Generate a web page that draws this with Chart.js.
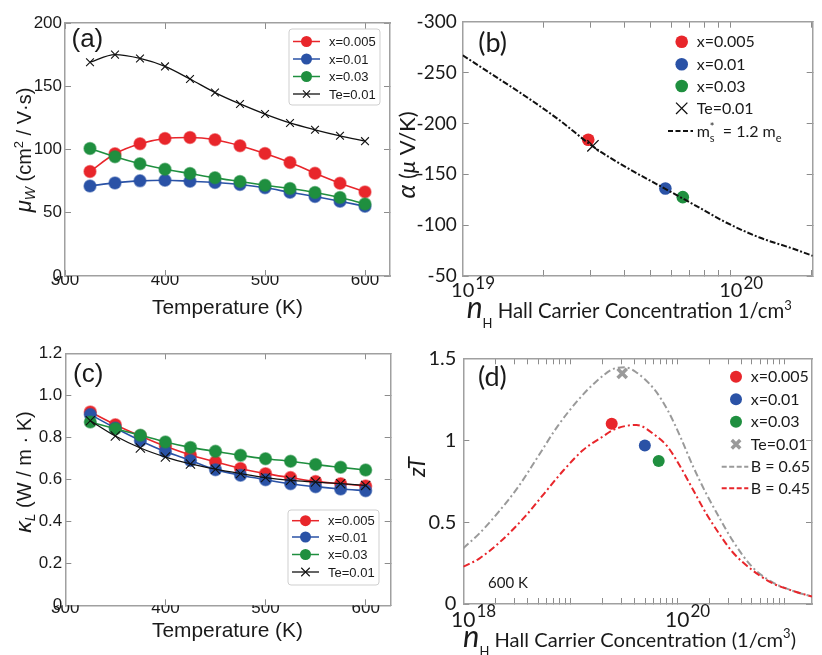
<!DOCTYPE html>
<html>
<head>
<meta charset="utf-8">
<script src="https://cdn.jsdelivr.net/npm/chart.js@4.4.0/dist/chart.umd.min.js"></script>
<style>
body{margin:0;background:#fff;width:822px;height:655px;position:relative;overflow:hidden}
canvas{position:absolute}
</style>
</head>
<body>
<canvas id="pa" width="420" height="330" style="left:0;top:0"></canvas>
<canvas id="pb" width="432" height="330" style="left:390px;top:0"></canvas>
<canvas id="pc" width="420" height="325" style="left:0;top:330px"></canvas>
<canvas id="pd" width="432" height="325" style="left:390px;top:330px"></canvas>
<script>
// ---- data ----
const temps = [325,350,375,400,425,450,475,500,525,550,575,600];
const muX005 = [82.6,96.6,104.5,108.7,109.5,107.7,103,96.8,89.7,81.3,73.4,66.5];
const muX01  = [71.2,73.6,75.2,75.7,74.9,73.9,72.3,69.7,66.2,62.8,59.1,55.1];
const muX03  = [100.8,94.2,88.7,84.4,81,77.6,74.7,71.8,69.1,66,62,57];
const muTe   = [169,175,172,165.7,155.7,145,136,128,121,115.6,110.8,106.6];

const kX005 = [0.921,0.860,0.806,0.757,0.716,0.683,0.651,0.627,0.608,0.590,0.579,0.568];
const kX01  = [0.908,0.844,0.784,0.732,0.690,0.646,0.619,0.598,0.579,0.565,0.554,0.546];
const kX03  = [0.873,0.841,0.810,0.778,0.752,0.733,0.714,0.698,0.686,0.670,0.657,0.644];
const kTe   = [0.879,0.806,0.749,0.706,0.673,0.648,0.627,0.608,0.595,0.587,0.579,0.571];

const samples = ['x=0.005','x=0.01','x=0.03','Te=0.01'];
const nHallB   = [2.94e19,5.7e19,6.62e19,3.06e19];
const seebeckB = [-184,-136,-127.5,-178];
const nPisarenko = [1e19,1.3e19,1.73e19,2.3e19,3.06e19,4.07e19,5.42e19,7.21e19,9.6e19,1.28e20,1.7e20,2.02e20];
const seebeckPisarenko = [-267,-247.4,-226,-203,-177.3,-156.9,-138.8,-120.8,-102.6,-87.8,-77,-69.8];

const nHallD = [2.44e19,4.98e19,6.71e19,3.06e19];
const zTD    = [1.10,0.967,0.873,1.408];
const nB065  = [1e18,1.42e18,2.15e18,3.27e18,4.98e18,7.57e18,1.15e19,1.74e19,2.63e19,3.24e19,4.07e19,6.17e19,8.13e19,1.07e20,1.41e20,1.86e20,2.45e20,3.27e20,5e20,7.6e20,1.15e21,1.82e21];
const zTB065 = [0.340,0.432,0.564,0.716,0.899,1.083,1.235,1.357,1.439,1.445,1.418,1.307,1.184,1.021,0.838,0.676,0.533,0.391,0.228,0.136,0.085,0.045];
const nB045  = [1e18,1.42e18,2.31e18,3.77e18,5.73e18,8.7e18,1.32e19,2e19,2.63e19,4.17e19,6.17e19,8.13e19,1.07e20,1.41e20,1.86e20,2.45e20,3.27e20,5e20,7.6e20,1.15e21,1.82e21];
const zTB045 = [0.228,0.279,0.391,0.533,0.676,0.818,0.940,1.021,1.068,1.093,1.032,0.960,0.838,0.696,0.554,0.432,0.319,0.208,0.130,0.085,0.045];

const tTicks = [300,400,500,600];
const muTicks = [0,50,100,150,200];
const kTicks = [0,0.2,0.4,0.6,0.8,1.0,1.2];
const sTicks = [-300,-250,-200,-150,-100,-50];
const zTicks = [0,0.5,1,1.5];

const RED='#e8262b', BLUE='#2a52a6', GREEN='#1f8f3f', BLACK='#111', GRAY='#9a9a9a';
const SANS='"Liberation Sans", Arial, sans-serif';
const HUM='Lato, "Open Sans", sans-serif';
const sampleColors = [RED,BLUE,GREEN];

// ---- drawing helpers ----
function fontOf(p, s){ return (p.st||'') + ' ' + s + 'px ' + (p.fam||SANS); }
function drawRich(ctx, x, y, parts, align, rot){
  ctx.save();
  ctx.translate(x, y);
  if (rot) ctx.rotate(-Math.PI/2);
  ctx.textBaseline = 'alphabetic';
  ctx.textAlign = 'left';
  const sized = parts.map(p => {
    let size = p.s;
    ctx.font = fontOf(p, size);
    let m = ctx.measureText(p.t).width;
    if (p.fit){ size = p.s * p.fit / m; ctx.font = fontOf(p, size); m = ctx.measureText(p.t).width; }
    return {p, size, w: m};
  });
  const total = sized.reduce((s, q) => s + (q.p.stack ? 0 : q.w), 0);
  let cx = align === 'center' ? -total/2 : align === 'right' ? -total : 0;
  for (const q of sized){
    ctx.font = fontOf(q.p, q.size);
    ctx.fillStyle = q.p.c || '#1a1a1a';
    ctx.fillText(q.p.t, cx, q.p.dy || 0);
    if (!q.p.stack) cx += q.w;
  }
  ctx.restore();
}
function mark(ctx, style, x, y, r, color, lw){
  ctx.save();
  ctx.fillStyle = color; ctx.strokeStyle = color; ctx.lineWidth = lw || 1;
  if (style === 'circle'){ ctx.beginPath(); ctx.arc(x, y, r, 0, Math.PI*2); ctx.fill(); }
  else { const d = r*0.7071; ctx.beginPath(); ctx.moveTo(x-d,y-d); ctx.lineTo(x+d,y+d); ctx.moveTo(x-d,y+d); ctx.lineTo(x+d,y-d); ctx.stroke(); }
  ctx.restore();
}
function drawLegend(ctx, L){
  if (L.box){
    ctx.save();
    ctx.fillStyle = '#fff'; ctx.strokeStyle = '#cfcfcf'; ctx.lineWidth = 1;
    ctx.beginPath(); ctx.roundRect(L.box[0], L.box[1], L.box[2], L.box[3], 3); ctx.fill(); ctx.stroke();
    ctx.restore();
  }
  for (const r of L.rows){
    if (r.line){
      ctx.save();
      ctx.strokeStyle = r.color; ctx.lineWidth = r.lw || 1.5; ctx.setLineDash(r.dash || []);
      ctx.beginPath(); ctx.moveTo(L.lineX[0], r.y); ctx.lineTo(L.lineX[1], r.y); ctx.stroke();
      ctx.restore();
    }
    if (r.style) mark(ctx, r.style, L.markX, r.y, r.r || L.r, r.color, r.mlw);
    const parts = r.parts || [{t: r.label, s: L.size, fam: L.fam}];
    drawRich(ctx, L.textX, r.y + L.size*0.36, parts, 'left', false);
  }
}

// legend, log tick labels and titles, drawn after the datasets
function decoPlugin(id, cfg){
  return {
    id,
    afterDraw(chart){
      const ctx = chart.ctx, xs = chart.scales.x;
      if (cfg.legend) drawLegend(ctx, cfg.legend);
      for (const l of (cfg.logLabels || [])){
        const p = xs.getPixelForValue(l.v);
        ctx.save();
        ctx.font = l.s + 'px ' + HUM; ctx.fillStyle = '#1a1a1a'; ctx.textBaseline = 'alphabetic'; ctx.textAlign = 'left';
        const w = ctx.measureText('10').width;
        ctx.fillText('10', p - w/2, l.y);
        ctx.font = l.ss + 'px ' + HUM;
        ctx.fillText(l.e, p + w/2 + 1, l.y - l.up);
        ctx.restore();
      }
      for (const t of (cfg.texts || [])) drawRich(ctx, t.x, t.y, t.parts, t.align, t.rot);
    }
  };
}

function fixW(w){ return s => { s.width = w; s.paddingTop = 0; s.paddingBottom = 0; }; }
function fixH(h){ return s => { s.height = h; s.paddingLeft = 0; s.paddingRight = 0; }; }
function setTicks(list){ return s => { s.ticks = list.map(v => ({value: v})); }; }
function logTicks(from, to, decades){
  const out = [];
  for (const d of decades) for (let m = 1; m <= 9; m++){ const v = m*d; if (v >= from && v <= to) out.push(v); }
  return out;
}

// the box: library axes on all four sides, each with its border and inward tick marks
const frameGrid = {display: true, drawOnChartArea: false, drawTicks: true, tickLength: -6, tickColor: '#8c8c8c', tickWidth: 1};
const frameBorder = {display: true, color: '#a0a0a0', width: 1.5};
function axis(extra){
  return Object.assign({grid: frameGrid, border: frameBorder}, extra);
}
function mirrorX(type, min, max, ticks){
  return axis({type, position: 'top', min, max, afterFit: fixH(0), afterBuildTicks: setTicks(ticks), ticks: {display: false}});
}
function mirrorY(min, max, ticks, reverse){
  return axis({type: 'linear', position: 'right', min, max, reverse: !!reverse, afterFit: fixW(0), afterBuildTicks: setTicks(ticks), ticks: {display: false}});
}

function tSeries(label, ys, color, style, r, order){
  const circ = style === 'circle';
  return {
    label, order,
    data: temps.map((t,i) => ({x: t, y: ys[i]})),
    borderColor: color, backgroundColor: color,
    pointBackgroundColor: color,
    pointBorderColor: circ ? color + '88' : color,
    pointBorderWidth: circ ? 1.5 : 1.1,
    pointStyle: style, pointRadius: r,
    borderWidth: circ ? 1.6 : 1.3,
    cubicInterpolationMode: 'monotone'
  };
}
function baseOpts(pad){
  return {
    animation: false, responsive: false, devicePixelRatio: 1, events: [],
    layout: {padding: {top: pad.top, right: pad.right, left: 0, bottom: 0}},
    plugins: {legend: {display: false}, tooltip: {enabled: false}}
  };
}
const legTemp = (box, rows, crossR) => ({
  box, lineX: [box[0]+4, box[0]+31], markX: box[0]+17.5, textX: box[0]+40, r: 5.5, size: 13, fam: SANS,
  rows: [
    {y: rows[0], line: true, style: 'circle', color: RED, label: samples[0]},
    {y: rows[1], line: true, style: 'circle', color: BLUE, label: samples[1]},
    {y: rows[2], line: true, style: 'circle', color: GREEN, label: samples[2]},
    {y: rows[3], line: true, lw: 1.3, style: 'crossRot', r: crossR, mlw: 1.1, color: BLACK, label: samples[3]}
  ]
});

// ---- (a) weighted mobility ----
const optA = baseOpts({top: 23, right: 30});
optA.scales = {
  x: axis({type: 'linear', position: 'bottom', min: 300, max: 625, afterFit: fixH(54), afterBuildTicks: setTicks(tTicks),
      ticks: {padding: 0, color: '#1a1a1a', font: {family: SANS, size: 17}}}),
  y: axis({type: 'linear', position: 'left', min: 0, max: 200, afterFit: fixW(65), afterBuildTicks: setTicks(muTicks),
      ticks: {padding: 9, color: '#1a1a1a', font: {family: SANS, size: 17}}}),
  x2: mirrorX('linear', 300, 625, tTicks),
  y2: mirrorY(0, 200, muTicks)
};
new Chart(document.getElementById('pa'), {
  type: 'line',
  data: {datasets: [
    tSeries(samples[0], muX005, RED, 'circle', 6, 4),
    tSeries(samples[1], muX01, BLUE, 'circle', 6, 3),
    tSeries(samples[2], muX03, GREEN, 'circle', 6, 2),
    tSeries(samples[3], muTe, BLACK, 'crossRot', 5.5, 1)
  ]},
  options: optA,
  plugins: [decoPlugin('decoA', {
    legend: legTemp([289, 29, 91, 76], [41.5, 59, 76.5, 94], 5),
    texts: [
      {x: 71.5, y: 47, parts: [{t: '(a)', s: 26}], align: 'left'},
      {x: 227.5, y: 314, parts: [{t: 'Temperature (K)', s: 19, fit: 151}], align: 'center'},
      {x: 31, y: 150, rot: true, align: 'center', parts: [
        {t: 'μ', s: 22, st: 'italic'}, {t: 'W', s: 14, st: 'italic', dy: 4},
        {t: ' (cm', s: 20}, {t: '2', s: 13, dy: -8}, {t: ' / V·s)', s: 20}]}
    ]
  })]
});

// ---- (c) lattice thermal conductivity ----
const optC = baseOpts({top: 23.3, right: 29.3});
optC.scales = {
  x: axis({type: 'linear', position: 'bottom', min: 300, max: 625, afterFit: fixH(49.7), afterBuildTicks: setTicks(tTicks),
      ticks: {padding: -1, color: '#1a1a1a', font: {family: SANS, size: 17}}}),
  y: axis({type: 'linear', position: 'left', min: 0, max: 1.2, afterFit: fixW(65.3), afterBuildTicks: setTicks(kTicks),
      ticks: {padding: 9, color: '#1a1a1a', font: {family: SANS, size: 17},
              callback: v => v === 0 ? '0' : v.toFixed(1)}}),
  x2: mirrorX('linear', 300, 625, tTicks),
  y2: mirrorY(0, 1.2, kTicks)
};
new Chart(document.getElementById('pc'), {
  type: 'line',
  data: {datasets: [
    tSeries(samples[0], kX005, RED, 'circle', 6, 4),
    tSeries(samples[1], kX01, BLUE, 'circle', 6, 3),
    tSeries(samples[2], kX03, GREEN, 'circle', 6, 2),
    tSeries(samples[3], kTe, BLACK, 'crossRot', 6.5, 1)
  ]},
  options: optC,
  plugins: [decoPlugin('decoC', {
    legend: legTemp([288, 180, 91, 75], [190.7, 207, 224.5, 242], 6),
    texts: [
      {x: 73, y: 52, parts: [{t: '(c)', s: 26}], align: 'left'},
      {x: 227.5, y: 307, parts: [{t: 'Temperature (K)', s: 19, fit: 151}], align: 'center'},
      {x: 31, y: 142, rot: true, align: 'center', parts: [
        {t: 'κ', s: 23, st: 'italic'}, {t: 'L', s: 14, st: 'italic', dy: 4},
        {t: ' (W / m · K)', s: 20}]}
    ]
  })]
});

// ---- (b) Pisarenko plot ----
function ptSet(i, xs, ys, r, crossColor, crossW, order){
  const isTe = i === 3;
  return {
    label: samples[i], order, showLine: false,
    data: [{x: xs[i], y: ys[i]}],
    pointStyle: isTe ? 'crossRot' : 'circle',
    pointRadius: isTe ? r + 1 : r,
    pointBackgroundColor: isTe ? crossColor : sampleColors[i],
    pointBorderColor: isTe ? crossColor : sampleColors[i],
    pointBorderWidth: isTe ? crossW : 0
  };
}
const nTicksB = logTicks(1e19, 2.02e20, [1e19, 1e20]);
const optB = baseOpts({top: 21.7, right: 9});
optB.scales = {
  x: axis({type: 'logarithmic', position: 'bottom', min: 1e19, max: 2.02e20, afterFit: fixH(54), afterBuildTicks: setTicks(nTicksB),
      ticks: {display: false}}),
  y: axis({type: 'linear', position: 'left', min: -300, max: -50, reverse: true, afterFit: fixW(72.7), afterBuildTicks: setTicks(sTicks),
      ticks: {padding: 12, color: '#1a1a1a', font: {family: HUM, size: 19}, callback: v => String(v)}}),
  x2: mirrorX('logarithmic', 1e19, 2.02e20, nTicksB),
  y2: mirrorY(-300, -50, sTicks, true)
};
new Chart(document.getElementById('pb'), {
  type: 'scatter',
  data: {datasets: [
    {label: 'ms* = 1.2 me', order: 0, showLine: true, pointRadius: 0, borderColor: BLACK, borderWidth: 2,
     borderDash: [6, 2, 2, 2], cubicInterpolationMode: 'monotone',
     data: nPisarenko.map((n, i) => ({x: n, y: seebeckPisarenko[i]}))},
    ptSet(0, nHallB, seebeckB, 6.3, BLACK, 1.3, 4),
    ptSet(1, nHallB, seebeckB, 6.3, BLACK, 1.3, 3),
    ptSet(2, nHallB, seebeckB, 6.3, BLACK, 1.3, 2),
    ptSet(3, nHallB, seebeckB, 7, BLACK, 1.3, 1)
  ]},
  options: optB,
  plugins: [decoPlugin('decoB', {
    logLabels: [{v: 1e19, e: '19', s: 20, ss: 17, y: 297, up: 8}, {v: 1e20, e: '20', s: 20, ss: 17, y: 297, up: 8}],
    legend: {
      lineX: [278, 303], markX: 291.7, textX: 306.7, r: 6.3, size: 16, fam: HUM,
      rows: [
        {y: 41.7, style: 'circle', color: RED, label: samples[0]},
        {y: 64.3, style: 'circle', color: BLUE, label: samples[1]},
        {y: 86, style: 'circle', color: GREEN, label: samples[2]},
        {y: 108.3, style: 'crossRot', r: 8, mlw: 1.3, color: BLACK, label: samples[3]},
        {y: 131, line: true, lw: 2, dash: [5, 2.5], color: BLACK, parts: [
          {t: 'm', s: 16, fam: HUM}, {t: '*', s: 11, fam: HUM, dy: -6, stack: true},
          {t: 's', s: 11, fam: HUM, dy: 5}, {t: '  = 1.2 m', s: 16, fam: HUM}, {t: 'e', s: 11, fam: HUM, dy: 5}]}
      ]
    },
    texts: [
      {x: 88.3, y: 52, parts: [{t: '(b)', s: 27, fam: HUM}], align: 'left'},
      {x: 76.7, y: 318, align: 'left', parts: [
        {t: 'n', s: 30, st: 'italic', fam: HUM}, {t: 'H', s: 13, fam: HUM, dy: 10},
        {t: ' Hall Carrier Concentration 1/cm', s: 20, fam: HUM, fit: 292}, {t: '3', s: 13, fam: HUM, dy: -8}]},
      {x: 25, y: 155, rot: true, align: 'center', parts: [
        {t: 'α', s: 25, st: 'italic', fam: HUM}, {t: ' (', s: 22, fam: HUM},
        {t: 'μ', s: 22, st: 'italic', fam: HUM}, {t: ' V/K)', s: 22, fam: HUM}]}
    ]
  })]
});

// ---- (d) zT vs carrier concentration ----
const nTicksD = logTicks(1e18, 1.82e21, [1e18, 1e19, 1e20, 1e21]);
const optD = baseOpts({top: 28.3, right: 1});
optD.scales = {
  x: axis({type: 'logarithmic', position: 'bottom', min: 1e18, max: 1.82e21, afterFit: fixH(51), afterBuildTicks: setTicks(nTicksD),
      ticks: {display: false}}),
  y: axis({type: 'linear', position: 'left', min: 0, max: 1.5, afterFit: fixW(73.3), afterBuildTicks: setTicks(zTicks),
      ticks: {padding: 13, color: '#1a1a1a', font: {family: HUM, size: 20}, callback: v => String(v)}}),
  x2: mirrorX('logarithmic', 1e18, 1.82e21, nTicksD),
  y2: mirrorY(0, 1.5, zTicks)
};
new Chart(document.getElementById('pd'), {
  type: 'scatter',
  data: {datasets: [
    {label: 'B = 0.65', order: 6, showLine: true, pointRadius: 0, borderColor: GRAY, borderWidth: 2,
     borderDash: [7, 3, 2, 3], cubicInterpolationMode: 'monotone',
     data: nB065.map((n, i) => ({x: n, y: zTB065[i]}))},
    {label: 'B = 0.45', order: 5, showLine: true, pointRadius: 0, borderColor: RED, borderWidth: 2,
     borderDash: [7, 3, 2, 3], cubicInterpolationMode: 'monotone',
     data: nB045.map((n, i) => ({x: n, y: zTB045[i]}))},
    ptSet(0, nHallD, zTD, 6, GRAY, 3.5, 4),
    ptSet(1, nHallD, zTD, 6, GRAY, 3.5, 3),
    ptSet(2, nHallD, zTD, 6, GRAY, 3.5, 2),
    ptSet(3, nHallD, zTD, 5.5, GRAY, 3.5, 1)
  ]},
  options: optD,
  plugins: [decoPlugin('decoD', {
    logLabels: [{v: 1e18, e: '18', s: 21, ss: 17, y: 297, up: 10}, {v: 1e20, e: '20', s: 21, ss: 17, y: 297, up: 10}],
    legend: {
      lineX: [331.7, 358.3], markX: 346, textX: 360.7, r: 6, size: 16, fam: HUM,
      rows: [
        {y: 46.7, style: 'circle', color: RED, label: samples[0]},
        {y: 69.3, style: 'circle', color: BLUE, label: samples[1]},
        {y: 91.7, style: 'circle', color: GREEN, label: samples[2]},
        {y: 114.3, style: 'crossRot', r: 6, mlw: 3.5, color: GRAY, label: samples[3]},
        {y: 136.7, line: true, lw: 2, dash: [5, 2.5], color: GRAY, label: 'B = 0.65'},
        {y: 158.3, line: true, lw: 2, dash: [5, 2.5], color: RED, label: 'B = 0.45'}
      ]
    },
    texts: [
      {x: 88, y: 56, parts: [{t: '(d)', s: 27, fam: HUM}], align: 'left'},
      {x: 98, y: 258, parts: [{t: '600 K', s: 15, fam: HUM}], align: 'left'},
      {x: 73, y: 316.5, align: 'left', parts: [
        {t: 'n', s: 31, st: 'italic', fam: HUM}, {t: 'H', s: 13, fam: HUM, dy: 9},
        {t: ' Hall Carrier Concentration (1/cm', s: 20, fam: HUM, fit: 294}, {t: '3', s: 13, fam: HUM, dy: -9},
        {t: ')', s: 20, fam: HUM}]},
      {x: 35, y: 137, rot: true, align: 'center', parts: [{t: 'zT', s: 23, st: 'italic', fam: HUM}]}
    ]
  })]
});
</script>
</body>
</html>
